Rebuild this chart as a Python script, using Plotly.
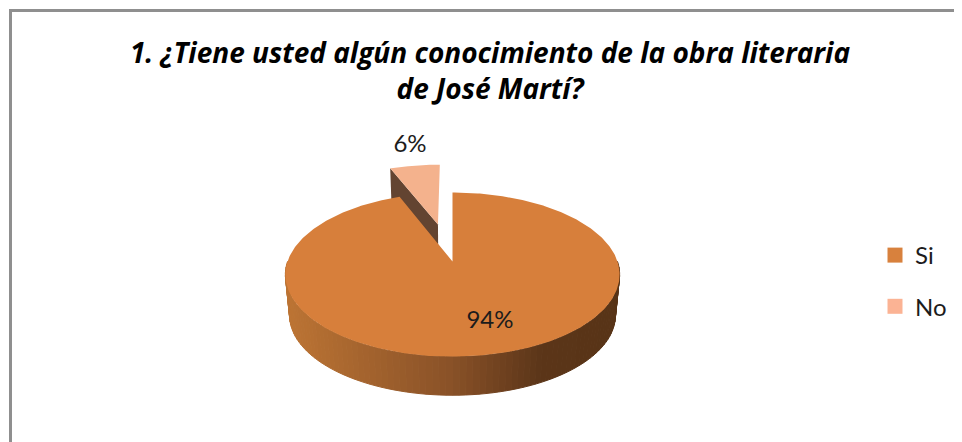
import numpy as np
import plotly.graph_objects as go

# ---- data ----
categories = ["Si", "No"]
values = [94, 6]
top_colors = ["#D77F3B", "#F4B28D"]
legend_colors = ["#D8813D", "#FBB394"]
title_lines = ["1. ¿Tiene usted algún conocimiento de la obra literaria", "de José Martí?"]

# ---- pie geometry (perspective view of a disc) ----
CX, CY = 452.5, 261.5
RX, RY, K = 165.0, 80.0, -0.159
DEPTH, BOTTOM_SCALE = 41.0, 0.975
EXPLODE = 0.508
LABEL_POS = {"Si": (490, 322), "No": (410, 146)}
STOPS_X = [290, 450, 540, 616]
STOPS_RGB = [(188, 116, 52), (138, 82, 40), (92, 54, 25), (88, 52, 23)]
PAGE_OFFSET = 8  # the page body's own margin
FIG_W, FIG_H = 962 - PAGE_OFFSET, 442 - PAGE_OFFSET


def project(u, v, depth=0.0):
    u, v = np.asarray(u, float), np.asarray(v, float)
    den = 1 + K * v
    s = BOTTOM_SCALE if depth else 1.0
    return CX + s * RX * u / den, CY + depth + s * RY * v / den


def wedge(a0, a1, off=(0.0, 0.0), n=160):
    a = np.radians(np.linspace(a0, a1, n))
    u = np.r_[off[0], off[0] + np.sin(a), off[0]]
    v = np.r_[off[1], off[1] - np.cos(a), off[1]]
    return u, v


fig = go.Figure()
total = sum(values)
main_end = 360 * values[0] / total

# exploded slice: the wall facing the viewer, then its top
mid = np.radians((main_end + 360) / 2)
off = (EXPLODE * np.sin(mid), -EXPLODE * np.cos(mid))
corner_u = np.array([off[0], off[0] + np.sin(np.radians(main_end))])
corner_v = np.array([off[1], off[1] - np.cos(np.radians(main_end))])
x0, y0 = project(corner_u, corner_v)
x1, y1 = project(corner_u, corner_v, DEPTH)
fig.add_trace(go.Scatter(x=np.r_[x0, x1[::-1], x0[0]], y=np.r_[y0, y1[::-1], y0[0]],
                         fill="toself", fillcolor="#634431", mode="lines",
                         line=dict(color="#634431", width=0), showlegend=False, hoverinfo="skip"))
u, v = wedge(main_end, 360, off)
x, y = project(u, v)
fig.add_trace(go.Scatter(x=x, y=y, fill="toself", fillcolor=top_colors[1], mode="lines",
                         line=dict(color=top_colors[1], width=0), showlegend=False, hoverinfo="skip"))

# rim of the main slice, shaded facet by facet
edges = np.radians(np.linspace(90, 270, 91))
for a, b in zip(edges[:-1], edges[1:]):
    ua, ub = np.array([np.sin(a), np.sin(b)]), np.array([-np.cos(a), -np.cos(b)])
    xt, yt = project(ua, ub)
    xb, yb = project(ua, ub, DEPTH)
    xm = (xt.mean() + xb.mean()) / 2
    rgb = [int(np.interp(xm, STOPS_X, [c[i] for c in STOPS_RGB])) for i in range(3)]
    col = f"rgb({rgb[0]},{rgb[1]},{rgb[2]})"
    fig.add_trace(go.Scatter(x=np.r_[xt, xb[::-1], xt[0]], y=np.r_[yt, yb[::-1], yt[0]],
                             fill="toself", fillcolor=col, mode="lines",
                             line=dict(color=col, width=1), showlegend=False, hoverinfo="skip"))

# top of the main slice
u, v = wedge(0, main_end, n=400)
x, y = project(u, v)
fig.add_trace(go.Scatter(x=x, y=y, fill="toself", fillcolor=top_colors[0], mode="lines",
                         line=dict(color=top_colors[0], width=0), showlegend=False, hoverinfo="skip"))

# data labels
for cat, val in zip(categories, values):
    lx, ly = LABEL_POS[cat]
    fig.add_trace(go.Scatter(x=[lx], y=[ly], mode="text", text=[f"{val}%"],
                             textfont=dict(family="Lato, Carlito, sans-serif", size=24, color="#1c1c1c"),
                             showlegend=False, hoverinfo="skip"))

# legend entries
for i, (cat, col) in enumerate(zip(categories, legend_colors)):
    fig.add_trace(go.Scatter(x=[None], y=[None], mode="markers", name=cat, legendgroup=cat,
                             marker=dict(symbol="square", size=15, color=col)))

fig.update_layout(
    width=FIG_W, height=FIG_H, autosize=False,
    margin=dict(l=0, r=0, t=0, b=0),
    paper_bgcolor="white", plot_bgcolor="white",
    font=dict(family="Lato, Carlito, sans-serif", color="#111111"),
    title=dict(text="<br>".join(title_lines), x=(490 - PAGE_OFFSET) / FIG_W, xanchor="center",
               y=1 - (63 - PAGE_OFFSET) / FIG_H, yanchor="middle",
               font=dict(family="Open Sans, Lato, sans-serif", size=28, color="#000000",
                         weight="bold", style="italic")),
    xaxis=dict(range=[PAGE_OFFSET, 962], visible=False, fixedrange=True),
    yaxis=dict(range=[442, PAGE_OFFSET], visible=False, fixedrange=True),
    legend=dict(x=(875 - PAGE_OFFSET) / FIG_W, xanchor="left", y=1 - (281 - PAGE_OFFSET) / FIG_H,
                yanchor="middle", tracegroupgap=17,
                font=dict(size=24, family="Lato, Carlito, sans-serif", color="#1c1c1c"),
                itemsizing="trace", bgcolor="rgba(0,0,0,0)"),
    shapes=[
        dict(type="line", x0=10.5, x1=10.5, y0=9, y1=442, line=dict(color="#8f8f8f", width=3)),
        dict(type="line", x0=9, x1=962, y0=10.5, y1=10.5, line=dict(color="#8f8f8f", width=3)),
    ],
)

fig.write_html("out.html")
